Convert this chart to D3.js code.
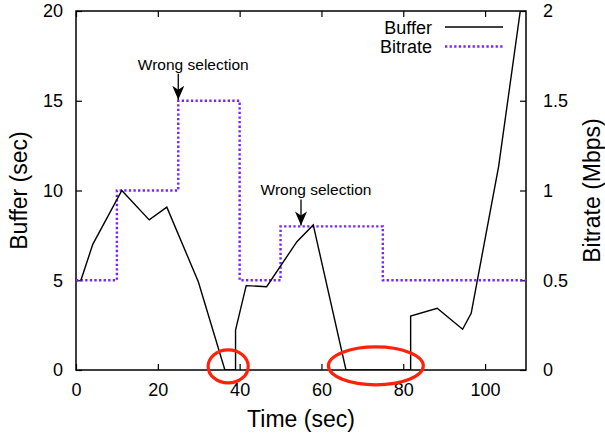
<!DOCTYPE html>
<html>
<head>
<meta charset="utf-8">
<script src="https://cdn.jsdelivr.net/npm/d3@7"></script>
<style>
  body { margin: 0; background: #fff; }
  svg text { font-family: "Liberation Sans", Arial, Helvetica, sans-serif; fill: #000; }
</style>
</head>
<body>
<div id="chart"></div>
<script>
// ---- data ----
// buffer level (sec) over time (sec)
var bufferTime  = [1.2, 4.1, 11.2, 17.9, 22.2, 29.9, 36.4, 39.0, 39.0, 41.6, 46.6, 54.0, 58.0, 66.0, 81.8, 81.8, 88.3, 94.5, 96.6, 103.3, 108.6];
var bufferLevel = [5.0, 7.0, 10.0, 8.36, 9.07, 4.92, 0.0, 0.0, 2.23, 4.7, 4.64, 7.15, 8.08, 0.0, 0.0, 3.01, 3.44, 2.27, 3.16, 11.33, 20.0];

// selected bitrate (Mbps), step changes at these times
var bitrateTime  = [0, 10, 25, 40, 50, 75, 110];
var bitrateValue = [0.5, 1.0, 1.5, 0.5, 0.8, 0.5, 0.5];

var xTicks       = [0, 20, 40, 60, 80, 100];
var bufferTicks  = [0, 5, 10, 15, 20];
var bitrateTicks = [0, 0.5, 1, 1.5, 2];

// "Wrong selection" notes: time and bitrate where the arrow points
var noteTime    = [25, 55];
var noteBitrate = [1.5, 0.8];
var noteText    = ["Wrong selection", "Wrong selection"];

// stall marks (red ellipses): centre time / buffer and half sizes in data units
var stallTime  = [37.2, 73.3];
var stallBuf   = [0.2, 0.23];
var stallHalfT = [4.9, 11.6];
var stallHalfB = [0.92, 1.06];

// ---- chart config ----
var W = 605, H = 435;
var margin = {top: 11, right: 79, bottom: 65, left: 76};
var width  = W - margin.left - margin.right,
    height = H - margin.top - margin.bottom;

var violet = "#7a22ff";

var svg = d3.select("#chart").append("svg")
    .attr("width", W).attr("height", H);

var g = svg.append("g")
    .attr("transform", "translate(" + margin.left + "," + margin.top + ")");

var x  = d3.scaleLinear().domain([0, 110]).range([0, width]);
var yB = d3.scaleLinear().domain([0, 20]).range([height, 0]);
var yR = d3.scaleLinear().domain([0, 2]).range([height, 0]);

// axes, ticks pointing inward
function styleAxis(sel) {
  sel.select(".domain").remove();
  sel.selectAll(".tick line").attr("stroke", "#000").attr("stroke-width", 1.2);
  sel.selectAll(".tick text").style("font-size", "18px");
}

g.append("g")
  .attr("transform", "translate(0," + height + ")")
  .call(d3.axisBottom(x).tickValues(xTicks).tickSize(-6).tickPadding(13))
  .call(styleAxis);

g.append("g")
  .call(d3.axisTop(x).tickValues(xTicks).tickSize(-6).tickFormat(""))
  .call(styleAxis);

g.append("g")
  .call(d3.axisLeft(yB).tickValues(bufferTicks).tickSize(-6).tickPadding(13))
  .call(styleAxis);

g.append("g")
  .attr("transform", "translate(" + width + ",0)")
  .call(d3.axisRight(yR).tickValues(bitrateTicks).tickSize(-6).tickPadding(17)
        .tickFormat(d3.format("~g")))
  .call(styleAxis);

// frame
g.append("rect")
  .attr("width", width).attr("height", height)
  .attr("fill", "none").attr("stroke", "#000").attr("stroke-width", 1.5);

svg.append("defs").append("clipPath").attr("id", "plotclip")
  .append("rect").attr("width", width).attr("height", height);

var plot = g.append("g").attr("clip-path", "url(#plotclip)");

// bitrate steps
var bitrateData = bitrateTime.map(function (t, i) { return {t: t, v: bitrateValue[i]}; });
plot.append("path")
  .datum(bitrateData)
  .attr("fill", "none")
  .attr("stroke", violet)
  .attr("stroke-width", 2.4)
  .attr("stroke-dasharray", "2.3,2.3")
  .attr("d", d3.line()
      .x(function (d) { return x(d.t); })
      .y(function (d) { return yR(d.v); })
      .curve(d3.curveStepAfter));

// buffer line
var bufferData = bufferTime.map(function (t, i) { return {t: t, v: bufferLevel[i]}; });
plot.append("path")
  .datum(bufferData)
  .attr("fill", "none")
  .attr("stroke", "#000")
  .attr("stroke-width", 1.4)
  .attr("d", d3.line()
      .x(function (d) { return x(d.t); })
      .y(function (d) { return yB(d.v); }));

// red ellipses round the stalls
stallTime.forEach(function (t, i) {
  g.append("ellipse")
    .attr("cx", x(t))
    .attr("cy", yB(stallBuf[i]))
    .attr("rx", x(t + stallHalfT[i]) - x(t))
    .attr("ry", yB(0) - yB(stallHalfB[i]))
    .attr("fill", "none")
    .attr("stroke", "#ff220a")
    .attr("stroke-width", 3.2);
});

// arrow marker
svg.select("defs").append("marker")
  .attr("id", "arrow")
  .attr("viewBox", "0 0 12 14")
  .attr("refX", 6).attr("refY", 14)
  .attr("markerWidth", 12).attr("markerHeight", 14)
  .attr("markerUnits", "userSpaceOnUse")
  .attr("orient", "0")
  .append("path")
  .attr("d", "M0,0 L6,4 L12,0 L6,14 Z")
  .attr("fill", "#000");

noteTime.forEach(function (t, i) {
  var ax = x(t), tip = yR(noteBitrate[i]) - 1;
  g.append("line")
    .attr("x1", ax).attr("x2", ax)
    .attr("y1", tip - 26).attr("y2", tip)
    .attr("stroke", "#000").attr("stroke-width", 1.3)
    .attr("marker-end", "url(#arrow)");
  // text sits a little right of the arrow
  g.append("text")
    .attr("x", ax + 15)
    .attr("y", tip - 30)
    .attr("text-anchor", "middle")
    .style("font-size", "15.5px")
    .text(noteText[i]);
});

// legend
var legend = svg.append("g");
[["Buffer", "#000", null, 1.6], ["Bitrate", violet, "2.3,2.3", 2.4]].forEach(function (d, i) {
  var ly = 27 + i * 19.5;
  legend.append("text")
    .attr("x", 432).attr("y", ly + 6.5)
    .attr("text-anchor", "end")
    .style("font-size", "18px")
    .text(d[0]);
  legend.append("line")
    .attr("x1", 445).attr("x2", 503)
    .attr("y1", ly).attr("y2", ly)
    .attr("stroke", d[1]).attr("stroke-width", d[3])
    .attr("stroke-dasharray", d[2]);
});

// axis titles
svg.append("text")
  .attr("x", margin.left + width / 2).attr("y", 427)
  .attr("text-anchor", "middle")
  .style("font-size", "23px")
  .text("Time (sec)");

svg.append("text")
  .attr("transform", "translate(27," + (margin.top + height / 2) + ") rotate(-90)")
  .attr("text-anchor", "middle")
  .style("font-size", "23px")
  .text("Buffer (sec)");

svg.append("text")
  .attr("transform", "translate(600," + (margin.top + height / 2) + ") rotate(-90)")
  .attr("text-anchor", "middle")
  .style("font-size", "23px")
  .text("Bitrate (Mbps)");
</script>
</body>
</html>
